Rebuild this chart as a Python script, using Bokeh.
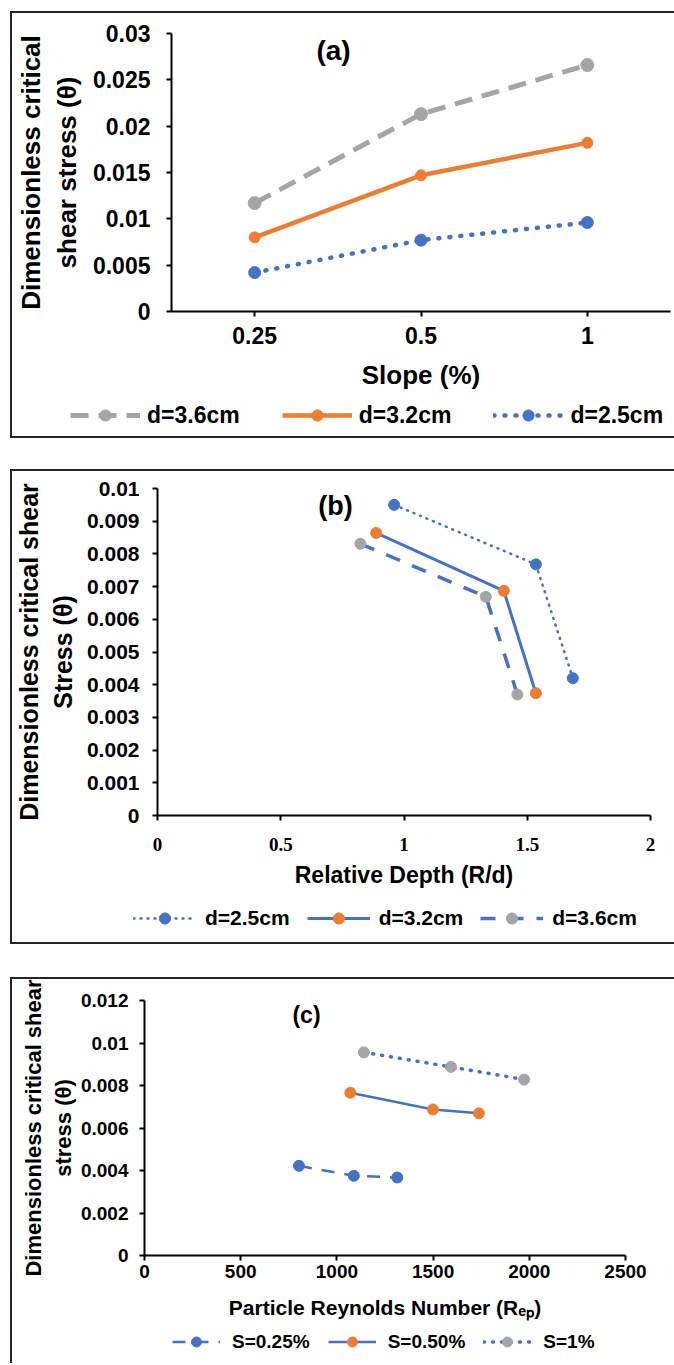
from bokeh.plotting import figure
from bokeh.models import FactorRange, Range1d, FixedTicker, Legend, LegendItem, Label
from bokeh.embed import file_html
from bokeh.resources import INLINE

BLUE = "#4472C4"
ORANGE = "#ED7D31"
GRAY = "#A5A5A5"
FONT = "Liberation Sans"
SERIF = "Liberation Serif"

# ---------------- data ----------------
# Panel (a)
a_slopes = ["0.25", "0.5", "1"]
a_d36 = [0.0117, 0.0213, 0.0266]
a_d32 = [0.0080, 0.0147, 0.0182]
a_d25 = [0.0042, 0.0077, 0.0096]
a_yticks = [0.0, 0.005, 0.01, 0.015, 0.02, 0.025, 0.03]
a_ylabels = ["0", "0.005", "0.01", "0.015", "0.02", "0.025", "0.03"]

# Panel (b)
b_d25_x = [0.96, 1.535, 1.685]
b_d25_y = [0.0095, 0.00768, 0.0042]
b_d32_x = [0.887, 1.405, 1.535]
b_d32_y = [0.00864, 0.00687, 0.00374]
b_d36_x = [0.823, 1.332, 1.46]
b_d36_y = [0.00831, 0.00669, 0.0037]
b_xticks = [0.0, 0.5, 1.0, 1.5, 2.0]
b_xlabels = ["0", "0.5", "1", "1.5", "2"]
b_yticks = [0.0, 0.001, 0.002, 0.003, 0.004, 0.005, 0.006, 0.007, 0.008, 0.009, 0.01]
b_ylabels = ["0", "0.001", "0.002", "0.003", "0.004", "0.005", "0.006",
             "0.007", "0.008", "0.009", "0.01"]

# Panel (c)
c_s025_x = [803, 1088, 1314]
c_s025_y = [0.00422, 0.00375, 0.00367]
c_s050_x = [1070, 1499, 1738]
c_s050_y = [0.00766, 0.006875, 0.00669]
c_s1_x = [1140, 1593, 1973]
c_s1_y = [0.00956, 0.008875, 0.00828]
c_xticks = [0, 500, 1000, 1500, 2000, 2500]
c_xlabels = ["0", "500", "1000", "1500", "2000", "2500"]
c_yticks = [0.0, 0.002, 0.004, 0.006, 0.008, 0.01, 0.012]
c_ylabels = ["0", "0.002", "0.004", "0.006", "0.008", "0.01", "0.012"]

BORDER = "2px solid #262626"
W = 664   # includes the 2px left border (border-box)


def make_fig(h, xr, yr, ml, mr, mt, mb, margin_top):
    styles = {"border-left": BORDER, "border-top": BORDER}
    p = figure(width=W, height=h, x_range=xr, y_range=yr,
               output_backend="svg", toolbar_location=None,
               min_border_left=ml, min_border_right=mr,
               min_border_top=mt, min_border_bottom=mb,
               outline_line_color=None, background_fill_color="white",
               border_fill_color="white", margin=(margin_top, 0, 0, 10),
               styles=styles)
    p.grid.visible = False
    for ax in (p.xaxis[0], p.yaxis[0]):
        ax.axis_line_width = 2
        ax.axis_line_color = "black"
        ax.major_tick_line_width = 2
        ax.major_tick_line_color = "black"
        ax.major_tick_out = 5
        ax.major_tick_in = 0
        ax.minor_tick_line_color = None
        ax.major_label_text_font = FONT
        ax.major_label_text_font_style = "bold"
        ax.major_label_text_color = "black"
        ax.axis_label_text_font = FONT
        ax.axis_label_text_font_style = "bold"
        ax.axis_label_text_color = "black"
    return p


def legend_fig(h, xr, bottom_border=True):
    styles = {"border-left": BORDER}
    if bottom_border:
        styles["border-bottom"] = BORDER
    # y range far above the data, so the series drawn here stay out of sight
    q = figure(width=W, height=h, x_range=xr, y_range=Range1d(1, 2),
               x_axis_type=None, y_axis_type=None,
               output_backend="svg", toolbar_location=None,
               min_border=0, min_border_left=0, min_border_right=0,
               min_border_top=0, min_border_bottom=0,
               outline_line_color=None, background_fill_color="white",
               border_fill_color="white", margin=(0, 0, 0, 10), styles=styles)
    q.grid.visible = False
    return q


def lbl(p, text, x, y, size):
    p.add_layout(Label(x=x, y=y, x_units="screen", y_units="screen", text=text,
                       text_align="center", text_baseline="middle",
                       text_font=FONT, text_font_style="bold",
                       text_font_size=size, text_color="black"))


def add_legend(q, series, specs, labels, loc, gw, gh, standoff, spacing, size):
    items = []
    for (xs, ys), (lkw, skw), text in zip(series, specs, labels):
        r1 = q.line(xs, ys, **lkw)
        r2 = q.scatter(xs, ys, **skw)
        items.append(LegendItem(label=text, renderers=[r1, r2]))
    lg = Legend(items=items, orientation="horizontal", location=loc,
                glyph_width=gw, glyph_height=gh, label_standoff=standoff,
                spacing=spacing, padding=0, margin=0,
                border_line_color=None, background_fill_alpha=0,
                label_text_font=FONT, label_text_font_style="bold",
                label_text_font_size=size, label_text_color="black")
    q.add_layout(lg)


# ---------------- panel (a) ----------------
a_line_styles = [
    (dict(line_color=GRAY, line_width=5, line_dash="18 10"), dict(size=13, color=GRAY)),
    (dict(line_color=ORANGE, line_width=4.5), dict(size=11, color=ORANGE)),
    (dict(line_color=BLUE, line_width=4.5, line_dash="1 10", line_cap="round"),
     dict(size=12, color=BLUE)),
]
a_names = ["d=3.6cm", "d=3.2cm", "d=2.5cm"]
a_series = [(a_slopes, a_d36), (a_slopes, a_d32), (a_slopes, a_d25)]

pa = make_fig(384, FactorRange(*a_slopes), Range1d(0, 0.03), 156, 6, 20, 86, 11)
pa.yaxis[0].ticker = FixedTicker(ticks=a_yticks)
pa.yaxis[0].major_label_overrides = dict(zip(a_yticks, a_ylabels))
pa.yaxis[0].major_label_text_font_size = "23px"
pa.yaxis[0].major_label_standoff = 16
pa.yaxis[0].axis_label = "Dimensionless critical\nshear stress (θ)"
pa.yaxis[0].axis_label_text_font_size = "26px"
pa.yaxis[0].axis_label_standoff = 8
pa.xaxis[0].major_label_text_font_size = "23px"
pa.xaxis[0].major_label_standoff = 10
pa.xaxis[0].axis_label = "Slope (%)"
pa.xaxis[0].axis_label_text_font_size = "26px"
pa.xaxis[0].axis_label_standoff = 13
for (xs, ys), (lkw, skw) in zip(a_series, a_line_styles):
    pa.line(xs, ys, **lkw)
    pa.scatter(xs, ys, **skw)
lbl(pa, "(a)", 162, 261, "28px")

la = legend_fig(43, FactorRange(*a_slopes))
add_legend(la, a_series, a_line_styles, a_names, (58, 9), 70, 28, 7, 42, "23px")

# ---------------- panel (b) ----------------
b_line_styles = [
    (dict(line_color=BLUE, line_width=2.5, line_dash="1 6", line_cap="round"),
     dict(size=11, color=BLUE)),
    (dict(line_color=BLUE, line_width=3), dict(size=11, color=ORANGE)),
    (dict(line_color=BLUE, line_width=3.5, line_dash="15 13"), dict(size=11, color=GRAY)),
]
b_names = ["d=2.5cm", "d=3.2cm", "d=3.6cm"]
b_series = [(b_d25_x, b_d25_y), (b_d32_x, b_d32_y), (b_d36_x, b_d36_y)]

pb = make_fig(426, Range1d(0, 2), Range1d(0, 0.01), 143, 26, 17, 82, 31)
pb.yaxis[0].ticker = FixedTicker(ticks=b_yticks)
pb.yaxis[0].major_label_overrides = dict(zip(b_yticks, b_ylabels))
pb.yaxis[0].major_label_text_font_size = "21px"
pb.yaxis[0].major_label_standoff = 13
pb.yaxis[0].axis_label = "Dimensionless critical shear\nStress (θ)"
pb.yaxis[0].axis_label_text_font_size = "25px"
pb.yaxis[0].axis_label_standoff = 7
pb.xaxis[0].ticker = FixedTicker(ticks=b_xticks)
pb.xaxis[0].major_label_overrides = dict(zip(b_xticks, b_xlabels))
pb.xaxis[0].major_label_text_font = SERIF
pb.xaxis[0].major_label_text_font_size = "19px"
pb.xaxis[0].major_label_standoff = 17
pb.xaxis[0].axis_label = "Relative Depth (R/d)"
pb.xaxis[0].axis_label_text_font_size = "23px"
pb.xaxis[0].axis_label_standoff = 8
for (xs, ys), (lkw, skw) in zip(b_series, b_line_styles):
    pb.line(xs, ys, **lkw)
    pb.scatter(xs, ys, **skw)
lbl(pb, "(b)", 178, 310, "27px")

lb = legend_fig(49, Range1d(0, 2))
add_legend(lb, b_series, b_line_styles, b_names, (121, 12), 63, 28, 9, 17, "21px")

# ---------------- panel (c) ----------------
c_line_styles = [
    (dict(line_color=BLUE, line_width=2.5, line_dash="13 10"), dict(size=11, color=BLUE)),
    (dict(line_color=BLUE, line_width=2.5), dict(size=11, color=ORANGE)),
    (dict(line_color=BLUE, line_width=3.5, line_dash="1 8", line_cap="round"),
     dict(size=11, color=GRAY)),
]
c_names = ["S=0.25%", "S=0.50%", "S=1%"]
c_series = [(c_s025_x, c_s025_y), (c_s050_x, c_s050_y), (c_s1_x, c_s1_y)]

pc = make_fig(345, Range1d(0, 2500), Range1d(0, 0.012), 132, 51, 21, 69, 33)
pc.yaxis[0].ticker = FixedTicker(ticks=c_yticks)
pc.yaxis[0].major_label_overrides = dict(zip(c_yticks, c_ylabels))
pc.yaxis[0].major_label_text_font_size = "19px"
pc.yaxis[0].major_label_standoff = 11
pc.yaxis[0].axis_label = "Dimensionless critical shear\nstress (θ)"
pc.yaxis[0].axis_label_text_font_size = "22px"
pc.yaxis[0].axis_label_standoff = 2
pc.xaxis[0].ticker = FixedTicker(ticks=c_xticks)
pc.xaxis[0].major_label_overrides = dict(zip(c_xticks, c_xlabels))
pc.xaxis[0].major_label_text_font_size = "19px"
pc.xaxis[0].major_label_standoff = 4
pc.xaxis[0].axis_label = "Particle Reynolds Number (R\u2091\u209a)"
pc.xaxis[0].axis_label_text_font_size = "21px"
pc.xaxis[0].axis_label_standoff = 15
for (xs, ys), (lkw, skw) in zip(c_series, c_line_styles):
    pc.line(xs, ys, **lkw)
    pc.scatter(xs, ys, **skw)
lbl(pc, "(c)", 162, 241, "23px")

lc = legend_fig(41, Range1d(0, 2500), bottom_border=False)
add_legend(lc, c_series, c_line_styles, c_names, (160, 9), 48, 25, 12, 18, "19px")

open("out.html", "w").write(file_html([pa, la, pb, lb, pc, lc], INLINE))
